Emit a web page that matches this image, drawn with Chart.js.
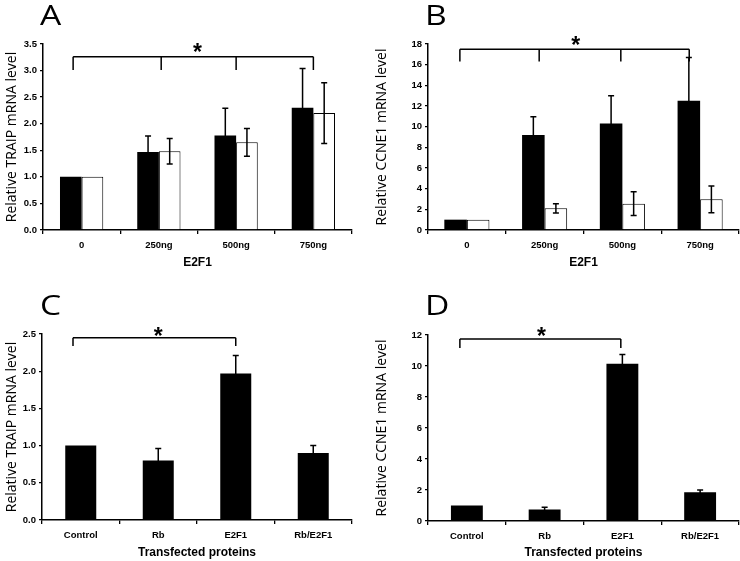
<!DOCTYPE html>
<html>
<head>
<meta charset="utf-8">
<script src="https://cdn.jsdelivr.net/npm/chart.js@4.4.1/dist/chart.umd.min.js"></script>
<style>
  html, body { margin: 0; padding: 0; background: #fff; }
  #wrap { position: relative; width: 740px; height: 561px; background: #fff; }
  .panel { position: absolute; }
  .letter {
    position: absolute; font-family: "Open Sans", sans-serif; font-size: 28px; line-height: 1;
    color: #000; transform: scaleX(1.2); transform-origin: 0 0;
  }
</style>
</head>
<body>
<div id="wrap">
  <div class="panel" style="left:0;top:0;width:370px;height:280px"><canvas id="chart-a" width="370" height="280"></canvas></div>
  <div class="panel" style="left:370px;top:0;width:370px;height:280px"><canvas id="chart-b" width="370" height="280"></canvas></div>
  <div class="panel" style="left:0;top:280px;width:370px;height:281px"><canvas id="chart-c" width="370" height="281"></canvas></div>
  <div class="panel" style="left:370px;top:280px;width:370px;height:281px"><canvas id="chart-d" width="370" height="281"></canvas></div>
  <div class="letter" style="left:40px;top:0">A</div>
  <div class="letter" style="left:425px;top:0">B</div>
  <div class="letter" style="left:40px;top:290px">C</div>
  <div class="letter" style="left:425px;top:290px">D</div>
</div>
<script>
const doseLabels = ["0", "250ng", "500ng", "750ng"];
const traipDoseBlack = [1.0, 1.47, 1.78, 2.30];
const traipDoseBlackErr = [0, 0.30, 0.51, 0.74];
const traipDoseWhite = [1.0, 1.48, 1.65, 2.20];
const traipDoseWhiteErr = [0, 0.24, 0.26, 0.57];

const ccneDoseBlack = [1.0, 9.2, 10.3, 12.5];
const ccneDoseBlackErr = [0, 1.75, 2.7, 4.2];
const ccneDoseWhite = [1.0, 2.1, 2.55, 2.97];
const ccneDoseWhiteErr = [0, 0.45, 1.15, 1.3];

const proteinLabels = ["Control", "Rb", "E2F1", "Rb/E2F1"];
const traipProtein = [1.0, 0.80, 1.97, 0.90];
const traipProteinErr = [0, 0.16, 0.24, 0.10];
const ccneProtein = [1.0, 0.75, 10.15, 1.85];
const ccneProteinErr = [0, 0.13, 0.6, 0.15];

const TICK_FONT = { family: "Liberation Sans", size: 9.5, weight: "bold" };

// error bars + significance bracket
const overlay = {
  id: "overlay",
  afterDatasetsDraw(chart, args, opts) {
    const ctx = chart.ctx;
    const xs = chart.scales.x;
    const ys = chart.scales.y;
    ctx.save();
    ctx.strokeStyle = "#000";
    ctx.lineWidth = 1.5;
    chart.data.datasets.forEach((ds, di) => {
      const meta = chart.getDatasetMeta(di);
      meta.data.forEach((bar, i) => {
        const e = ds.errors ? ds.errors[i] : 0;
        if (!e) return;
        const v = ds.data[i];
        const top = ys.getPixelForValue(v + e);
        const bot = ys.getPixelForValue(v - e);
        ctx.beginPath();
        ctx.moveTo(bar.x, top);
        ctx.lineTo(bar.x, bot);
        ctx.moveTo(bar.x - 3, top);
        ctx.lineTo(bar.x + 3, top);
        ctx.moveTo(bar.x - 3, bot);
        ctx.lineTo(bar.x + 3, bot);
        ctx.stroke();
      });
    });

    const b = opts.bracket;
    if (b) {
      const yl = ys.getPixelForValue(b.line);
      const yd = ys.getPixelForValue(b.drop);
      const px = b.drops.map((d) => xs.getPixelForValue(d));
      ctx.beginPath();
      ctx.moveTo(px[0], yl);
      ctx.lineTo(px[px.length - 1], yl);
      px.forEach((p) => {
        ctx.moveTo(p, yl);
        ctx.lineTo(p, yd);
      });
      ctx.stroke();
      const size = 23;
      ctx.fillStyle = "#000";
      ctx.font = "bold " + size + "px 'Liberation Sans'";
      ctx.textAlign = "center";
      ctx.textBaseline = "alphabetic";
      ctx.fillText("*", xs.getPixelForValue(b.starX), ys.getPixelForValue(b.starY) + size * 0.58);
    }
    ctx.restore();
  },
};

function makeChart(id, cfg) {
  return new Chart(document.getElementById(id), {
    type: "bar",
    data: { labels: cfg.labels, datasets: cfg.datasets },
    plugins: [overlay],
    options: {
      responsive: false,
      animation: false,
      events: [],
      layout: { padding: { top: cfg.top, right: cfg.right, left: 0, bottom: 0 } },
      datasets: {
        bar: { categoryPercentage: cfg.catPct, barPercentage: 1.0 },
      },
      plugins: {
        legend: { display: false },
        tooltip: { enabled: false },
        overlay: { bracket: cfg.bracket },
      },
      scales: {
        x: {
          afterFit: (s) => { s.height = cfg.xHeight; },
          grid: {
            offset: true,
            drawOnChartArea: false,
            drawTicks: true,
            tickLength: 4,
            color: "#000",
            lineWidth: 1.3,
          },
          border: { display: true, color: "#000", width: 1.5 },
          ticks: { color: "#000", font: TICK_FONT, padding: 6, maxRotation: 0 },
          title: {
            display: true,
            text: cfg.xTitle,
            color: "#000",
            font: { family: "Liberation Sans", size: 12, weight: "bold" },
            padding: { top: 0, bottom: cfg.xTitlePad },
          },
        },
        y: {
          min: 0,
          max: cfg.yMax,
          afterFit: (s) => { s.width = cfg.yWidth; },
          grid: {
            drawOnChartArea: false,
            drawTicks: true,
            tickLength: 3,
            color: "#000",
            lineWidth: 1.3,
          },
          border: { display: true, color: "#000", width: 1.5 },
          ticks: {
            stepSize: cfg.yStep,
            color: "#000",
            font: TICK_FONT,
            padding: 3,
            callback: (v) => (cfg.yDec ? v.toFixed(1) : String(v)),
          },
          title: {
            display: true,
            text: cfg.yTitle,
            color: "#000",
            font: { family: "Open Sans", size: 14, weight: "normal", lineHeight: 1.2 },
            padding: { top: 4, bottom: 0 },
          },
        },
      },
    },
  });
}

const blackBar = (data, errors) => ({
  data, errors, backgroundColor: "#000", borderWidth: 0,
});
const whiteBar = (data, errors) => ({
  data, errors, backgroundColor: "#fff", borderColor: "#000", borderWidth: 1,
});

makeChart("chart-a", {
  labels: doseLabels,
  datasets: [blackBar(traipDoseBlack, traipDoseBlackErr), whiteBar(traipDoseWhite, traipDoseWhiteErr)],
  top: 44, right: 18, xHeight: 50, yWidth: 43, catPct: 0.56,
  yMax: 3.5, yStep: 0.5, yDec: true,
  xTitle: "E2F1", xTitlePad: 10, yTitle: "Relative TRAIP mRNA level",
  bracket: { drops: [-0.11, 1.03, 2, 3], line: 3.26, drop: 3.01, starX: 1.5, starY: 3.45 },
});

makeChart("chart-b", {
  labels: doseLabels,
  datasets: [blackBar(ccneDoseBlack, ccneDoseBlackErr), whiteBar(ccneDoseWhite, ccneDoseWhiteErr)],
  top: 44, right: 1, xHeight: 50, yWidth: 58, catPct: 0.58,
  yMax: 18, yStep: 2, yDec: false,
  xTitle: "E2F1", xTitlePad: 10, yTitle: "Relative CCNE1 mRNA level",
  bracket: { drops: [-0.09, 0.93, 1.98, 2.86], line: 17.5, drop: 16.3, starX: 1.4, starY: 18.4 },
});

makeChart("chart-c", {
  labels: proteinLabels,
  datasets: [blackBar(traipProtein, traipProteinErr)],
  top: 54, right: 18, xHeight: 41, yWidth: 42, catPct: 0.4,
  yMax: 2.5, yStep: 0.5, yDec: true,
  xTitle: "Transfected proteins", xTitlePad: 1, yTitle: "Relative TRAIP mRNA level",
  bracket: { drops: [-0.1, 2], line: 2.45, drop: 2.34, starX: 1.0, starY: 2.55 },
});

makeChart("chart-d", {
  labels: proteinLabels,
  datasets: [blackBar(ccneProtein, ccneProteinErr)],
  top: 55, right: 1, xHeight: 40, yWidth: 58, catPct: 0.41,
  yMax: 12, yStep: 2, yDec: false,
  xTitle: "Transfected proteins", xTitlePad: 1, yTitle: "Relative CCNE1 mRNA level",
  bracket: { drops: [-0.09, 1.98], line: 11.74, drop: 11.16, starX: 0.96, starY: 12.26 },
});
</script>
</body>
</html>
